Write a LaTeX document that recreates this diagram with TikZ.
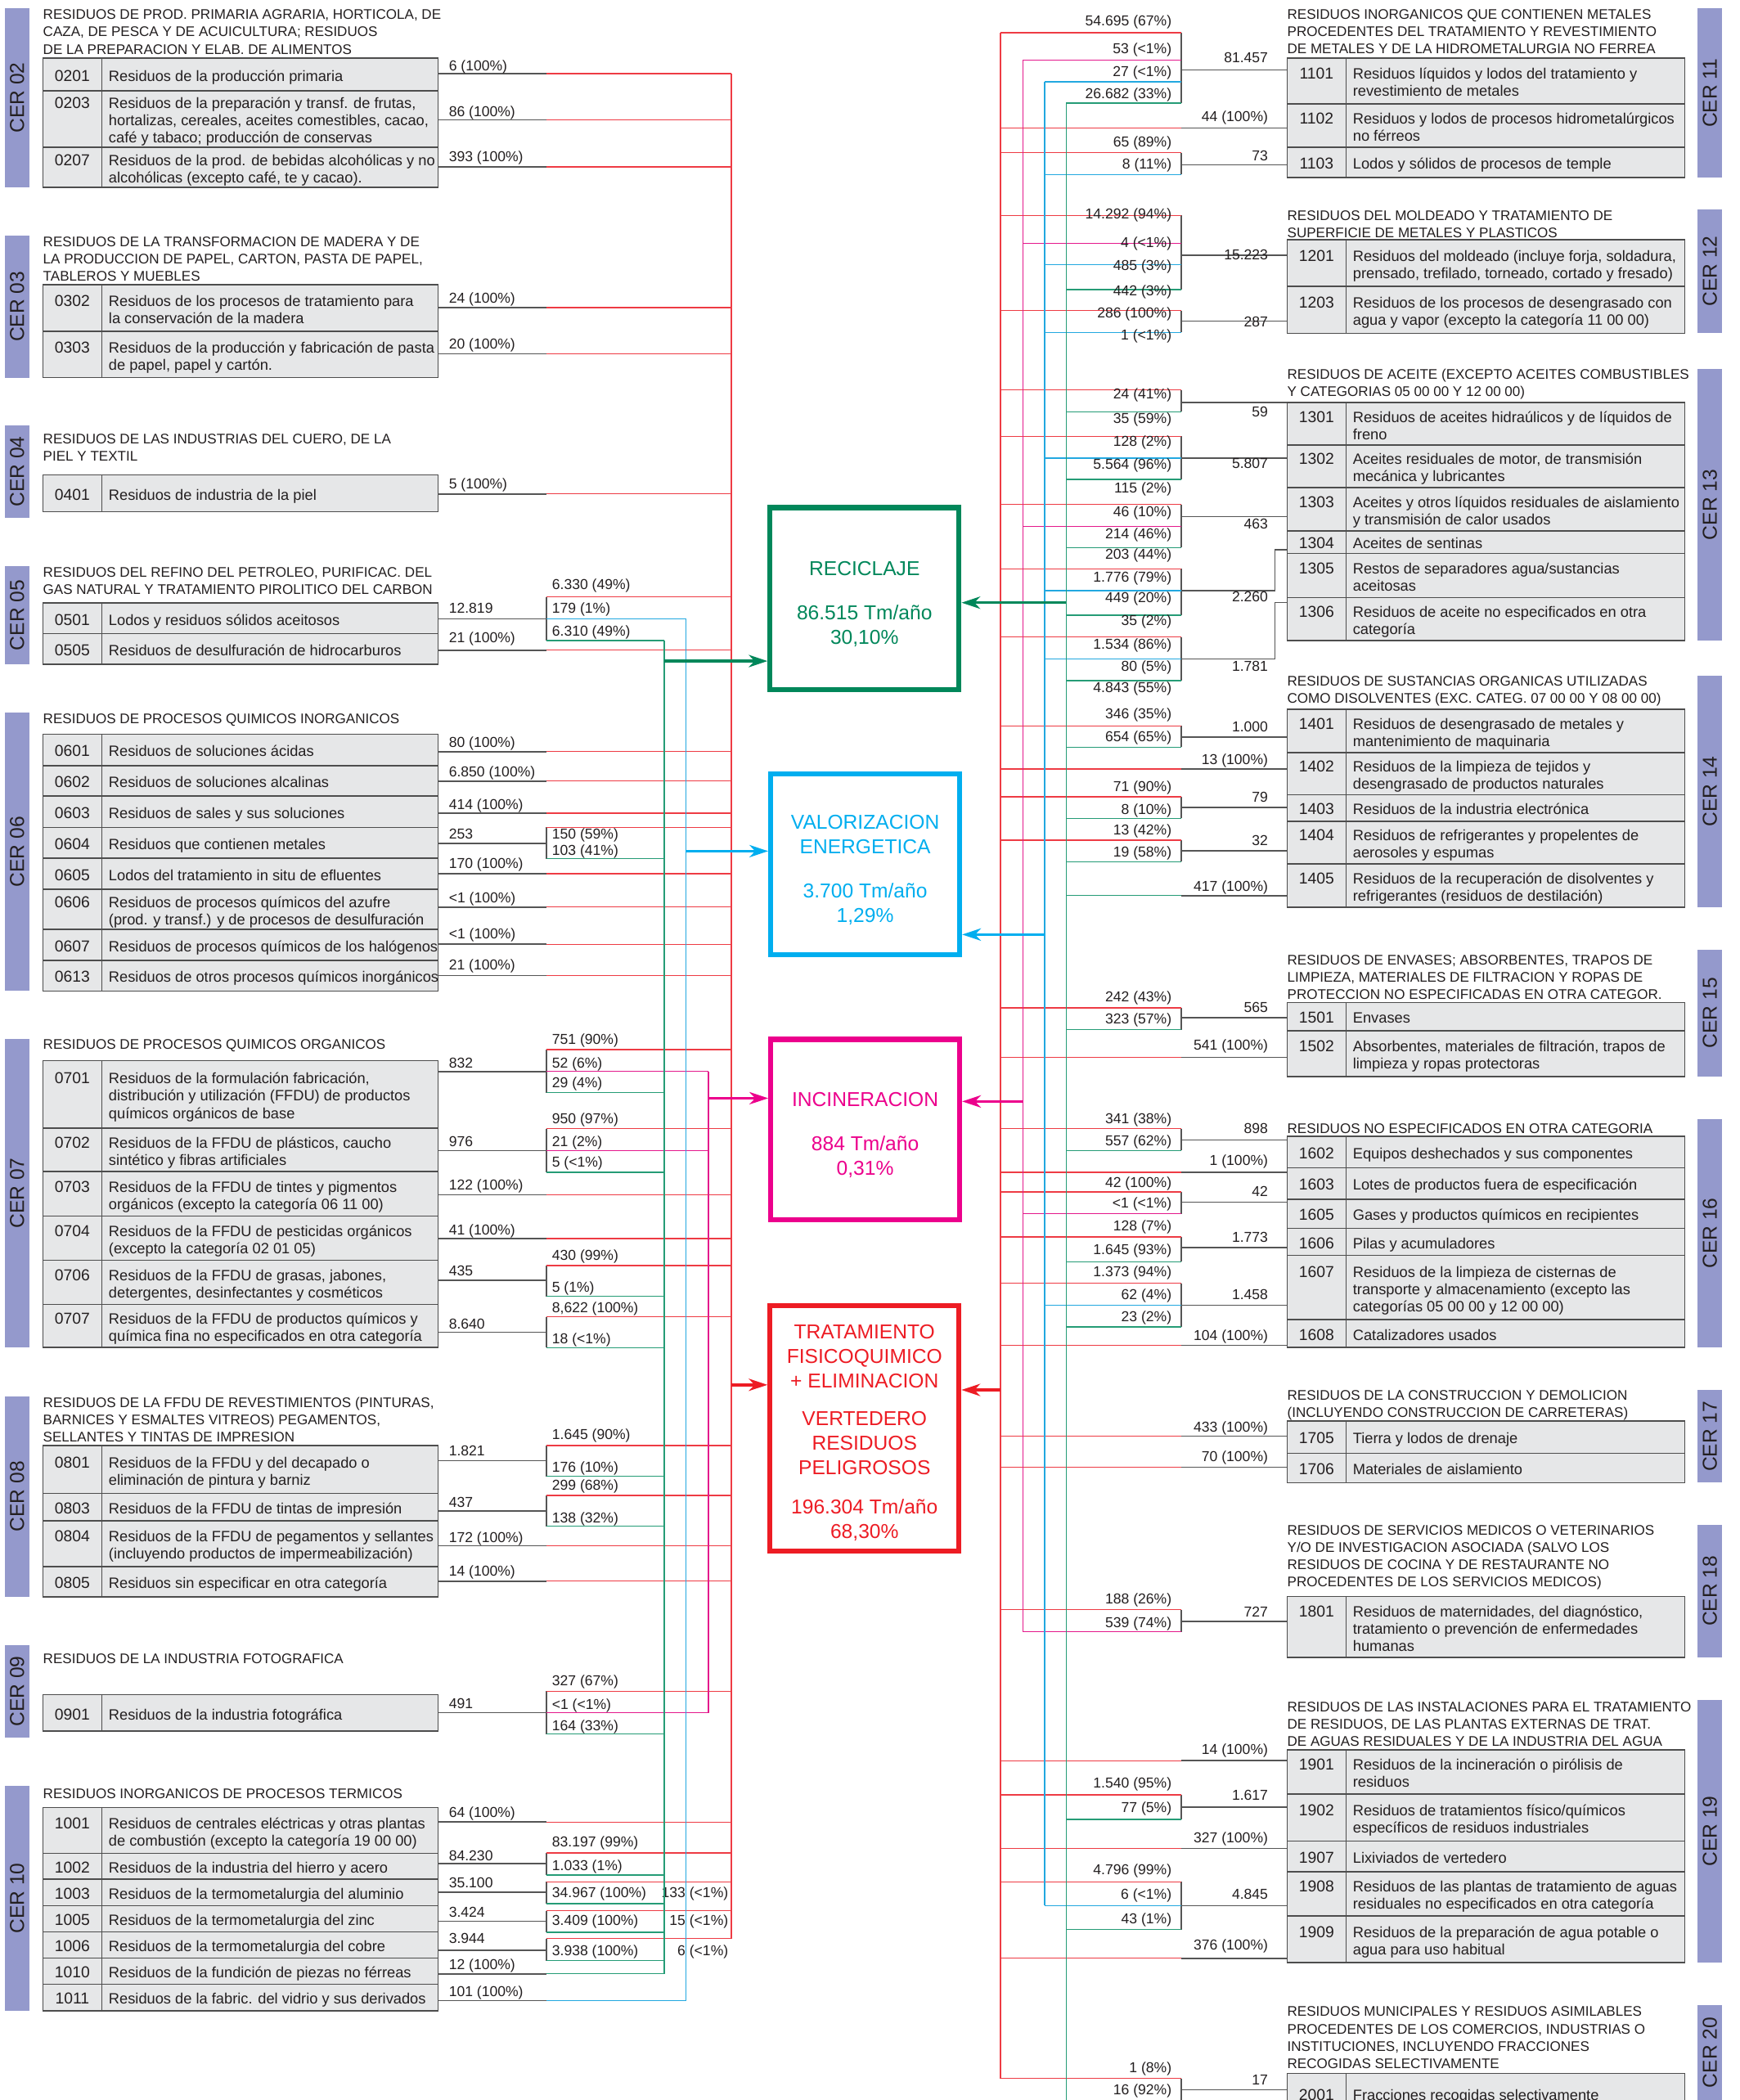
\documentclass[tikz,border=0pt]{standalone}
\usepackage{fontspec}
\setmainfont{Liberation Sans}
\usetikzlibrary{arrows.meta,positioning}
\definecolor{cerBar}   {HTML}{9499CC}
\definecolor{cellFill} {HTML}{E6E7E8}
\definecolor{cellRule} {HTML}{4D4D4D}
\definecolor{leadRule} {HTML}{555555}
\definecolor{textDark} {HTML}{231F20}
\definecolor{flowRed}  {HTML}{EE3B44}
\definecolor{flowMag}  {HTML}{E4198C}
\definecolor{flowCyan} {HTML}{22A8E0}
\definecolor{flowGreen}{HTML}{259C76}
\definecolor{recGreen} {HTML}{00875A}
\definecolor{valCyan}  {HTML}{00AEEF}
\definecolor{incMag}   {HTML}{EC008C}
\definecolor{traRed}   {HTML}{ED1C24}

\begin{document}
\begin{tikzpicture}[x=0.3275mm, y=-0.3275mm,
    rowcell/.style={draw=cellRule, fill=cellFill, line width=0.9pt},
    desctxt/.style={font=\fontsize{10.4}{12}\selectfont, align=left,
                    inner sep=0pt, text=textDark, anchor=west},
    codetxt/.style={font=\fontsize{11}{12}\selectfont, inner sep=0pt,
                    text=textDark, anchor=north},
    ttl/.style={font=\fontsize{9.7}{12}\selectfont, align=left,
                inner sep=0pt, anchor=west, text=textDark},
    cerlab/.style={font=\fontsize{14}{16}\selectfont, rotate=90,
                   text=textDark, inner sep=0pt},
    flab/.style={font=\fontsize{10}{12}\selectfont, inner sep=0pt,
                 text height=7.2pt, text depth=2.1pt, text=textDark},
    leadline/.style={draw=leadRule, line width=0.9pt},
    fred/.style={draw=flowRed, line width=0.75pt},
    fmag/.style={draw=flowMag, line width=0.75pt},
    fcyan/.style={draw=flowCyan, line width=0.75pt},
    fgreen/.style={draw=flowGreen, line width=0.75pt},
    destbox/.style={line width=3.5pt, minimum width=46.2mm},
    desttxt/.style={align=center, inner sep=0pt,
                    font=\fontsize{14}{17.2}\selectfont},
    feed/.style={line width=2pt, -{Stealth[length=13pt, width=8.5pt, inset=4pt]}}]

    \fill[white] (0,0) rectangle (1299,1568);
    \useasboundingbox (0,0) rectangle (1299,1568);

    % CER bars
    \foreach \n/\t/\b in {02/6.1/140, 03/176/282, 04/317.5/386.7, 05/422.8/496,
        06/531.9/740, 07/775.6/1006.2, 08/1042.6/1192.2, 09/1228.5/1297.3,
        10/1333.4/1501.3}
    {
      \fill[cerBar] (3.5,\t) rectangle (22,\b);
      \node[cerlab] (cer\n) at (12.75,{(\t+\b)/2}) {CER \n};
    }
    \foreach \n/\t/\b in {11/6.1/132.7, 12/156.3/248.8, 13/275.4/478.4,
        14/504.4/677.5, 15/709/803.7, 16/835.6/1006, 17/1038/1107,
        18/1138.3/1237.7, 19/1269.2/1465.3, 20/1497.2/1568}
    {
      \fill[cerBar] (1267.5,\t) rectangle (1286,\b);
      \node[cerlab] (cer\n) at (1276.75,{(\t+\b)/2}) {CER \n};
    }

    % group titles
    \foreach \n/\x/\y/\t in {
      02/32/22.7/{RESIDUOS DE PROD. PRIMARIA AGRARIA, HORTICOLA, DE\\CAZA, DE PESCA Y DE ACUICULTURA; RESIDUOS\\DE LA PREPARACION Y ELAB. DE ALIMENTOS},
      03/32/192.1/{RESIDUOS DE LA TRANSFORMACION DE MADERA Y DE\\LA PRODUCCION DE PAPEL, CARTON, PASTA DE PAPEL,\\TABLEROS Y MUEBLES},
      04/32/333.1/{RESIDUOS DE LAS INDUSTRIAS DEL CUERO, DE LA\\PIEL Y TEXTIL},
      05/32/432.7/{RESIDUOS DEL REFINO DEL PETROLEO, PURIFICAC. DEL\\GAS NATURAL Y TRATAMIENTO PIROLITICO DEL CARBON},
      06/32/536.3/{RESIDUOS DE PROCESOS QUIMICOS INORGANICOS},
      07/32/779.7/{RESIDUOS DE PROCESOS QUIMICOS ORGANICOS},
      08/32/1059/{RESIDUOS DE LA FFDU DE REVESTIMIENTOS (PINTURAS,\\BARNICES Y ESMALTES VITREOS) PEGAMENTOS,\\SELLANTES Y TINTAS DE IMPRESION},
      09/32/1237.3/{RESIDUOS DE LA INDUSTRIA FOTOGRAFICA},
      10/32/1338/{RESIDUOS INORGANICOS DE PROCESOS TERMICOS},
      11/961/22.6/{RESIDUOS INORGANICOS QUE CONTIENEN METALES\\PROCEDENTES DEL TRATAMIENTO Y REVESTIMIENTO\\DE METALES Y DE LA HIDROMETALURGIA NO FERREA},
      12/961/166.4/{RESIDUOS DEL MOLDEADO Y TRATAMIENTO DE\\SUPERFICIE DE METALES Y PLASTICOS},
      13/961/285.5/{RESIDUOS DE ACEITE (EXCEPTO ACEITES COMBUSTIBLES\\Y CATEGORIAS 05 00 00 Y 12 00 00)},
      14/961/514.8/{RESIDUOS DE SUSTANCIAS ORGANICAS UTILIZADAS\\COMO DISOLVENTES (EXC. CATEG. 07 00 00 Y 08 00 00)},
      15/961/728.3/{RESIDUOS DE ENVASES; ABSORBENTES, TRAPOS DE\\LIMPIEZA, MATERIALES DE FILTRACION Y ROPAS DE\\PROTECCION NO ESPECIFICADAS EN OTRA CATEGOR.},
      16/961/841.7/{RESIDUOS NO ESPECIFICADOS EN OTRA CATEGORIA},
      17/961/1048.2/{RESIDUOS DE LA CONSTRUCCION Y DEMOLICION\\(INCLUYENDO CONSTRUCCION DE CARRETERAS)},
      18/961/1161.7/{RESIDUOS DE SERVICIOS MEDICOS O VETERINARIOS\\Y/O DE INVESTIGACION ASOCIADA (SALVO LOS\\RESIDUOS DE COCINA Y DE RESTAURANTE NO\\PROCEDENTES DE LOS SERVICIOS MEDICOS)},
      19/961/1286/{RESIDUOS DE LAS INSTALACIONES PARA EL TRATAMIENTO\\DE RESIDUOS, DE LAS PLANTAS EXTERNAS DE TRAT.\\DE AGUAS RESIDUALES Y DE LA INDUSTRIA DEL AGUA},
      20/961/1520.2/{RESIDUOS MUNICIPALES Y RESIDUOS ASIMILABLES\\PROCEDENTES DE LOS COMERCIOS, INDUSTRIAS O\\INSTITUCIONES, INCLUYENDO FRACCIONES\\RECOGIDAS SELECTIVAMENTE}}
      \node[ttl] (ttl\n) at (\x,{\y+1.2}) {\t};

    % left rows
    \foreach \c/\t/\b/\d in {
      0201/43.2/67.8/{Residuos de la producción primaria},
      0203/67.8/110/{Residuos de la preparación y transf. de frutas,\\hortalizas, cereales, aceites comestibles, cacao,\\café y tabaco; producción de conservas},
      0207/110/140/{Residuos de la prod. de bebidas alcohólicas y no\\alcohólicas (excepto café, te y cacao).},
      0302/212.7/247.3/{Residuos de los procesos de tratamiento para\\la conservación de la madera},
      0303/247.3/282/{Residuos de la producción y fabricación de pasta\\de papel, papel y cartón.},
      0401/354.6/382/{Residuos de industria de la piel},
      0501/450.2/473.2/{Lodos y residuos sólidos aceitosos},
      0505/473.2/496/{Residuos de desulfuración de hidrocarburos},
      0601/548.2/571.6/{Residuos de soluciones ácidas},
      0602/571.6/594.4/{Residuos de soluciones alcalinas},
      0603/594.4/617.8/{Residuos de sales y sus soluciones},
      0604/617.8/640.8/{Residuos que contienen metales},
      0605/640.8/664/{Lodos del tratamiento in situ de efluentes},
      0606/664/693.8/{Residuos de procesos químicos del azufre\\(prod. y transf.) y de procesos de desulfuración},
      0607/693.8/717/{Residuos de procesos químicos de los halógenos},
      0613/717/740/{Residuos de otros procesos químicos inorgánicos},
      0701/791.9/842.2/{Residuos de la formulación fabricación,\\distribución y utilización (FFDU) de productos\\químicos orgánicos de base},
      0702/842.2/874.7/{Residuos de la FFDU de plásticos, caucho\\sintético y fibras artificiales},
      0703/874.7/908/{Residuos de la FFDU de tintes y pigmentos\\orgánicos (excepto la categoría 06 11 00)},
      0704/908/941/{Residuos de la FFDU de pesticidas orgánicos\\(excepto la categoría 02 01 05)},
      0706/941/974/{Residuos de la FFDU de grasas, jabones,\\detergentes, desinfectantes y cosméticos},
      0707/974/1006.2/{Residuos de la FFDU de productos químicos y\\química fina no especificados en otra categoría},
      0801/1079.3/1115.1/{Residuos de la FFDU y del decapado o\\eliminación de pintura y barniz},
      0803/1115.1/1135.4/{Residuos de la FFDU de tintas de impresión},
      0804/1135.4/1169.8/{Residuos de la FFDU de pegamentos y sellantes\\(incluyendo productos de impermeabilización)},
      0805/1169.8/1192.2/{Residuos sin especificar en otra categoría},
      0901/1265.2/1292.6/{Residuos de la industria fotográfica},
      1001/1349.6/1383.8/{Residuos de centrales eléctricas y otras plantas\\de combustión (excepto la categoría 19 00 00)},
      1002/1383.8/1403.2/{Residuos de la industria del hierro y acero},
      1003/1403.2/1422.9/{Residuos de la termometalurgia del aluminio},
      1005/1422.9/1442.5/{Residuos de la termometalurgia del zinc},
      1006/1442.5/1462/{Residuos de la termometalurgia del cobre},
      1010/1462/1481.5/{Residuos de la fundición de piezas no férreas},
      1011/1481.5/1501.3/{Residuos de la fabric. del vidrio y sus derivados}}
    {
      \draw[rowcell] (32,\t) rectangle (327,\b);
      \draw[rowcell] (76,\t) -- (76,\b);
      \node[desctxt] (r\c) at (81,{(\t+\b)/2+2.5}) {\strut\d\strut};
      \node[codetxt] (c\c) at ([xshift=-8.84mm]r\c.north west) {\strut\c};
    }

    % right rows
    \foreach \c/\t/\b/\d in {
      1101/43.2/77.4/{Residuos líquidos y lodos del tratamiento y\\revestimiento de metales},
      1102/77.4/110/{Residuos y lodos de procesos hidrometalúrgicos\\no férreos},
      1103/110/132.7/{Lodos y sólidos de procesos de temple},
      1201/179.1/213.7/{Residuos del moldeado (incluye forja, soldadura,\\prensado, trefilado, torneado, cortado y fresado)},
      1203/213.7/248.8/{Residuos de los procesos de desengrasado con\\agua y vapor (excepto la categoría 11 00 00)},
      1301/300.7/332.4/{Residuos de aceites hidraúlicos y de líquidos de\\freno},
      1302/332.4/364/{Aceites residuales de motor, de transmisión\\mecánica y lubricantes},
      1303/364/396.3/{Aceites y otros líquidos residuales de aislamiento\\y transmisión de calor usados},
      1304/396.3/413.2/{Aceites de sentinas},
      1305/413.2/446.2/{Restos de separadores agua/sustancias\\aceitosas},
      1306/446.2/478.4/{Residuos de aceite no especificados en otra\\categoría},
      1401/529.7/561.8/{Residuos de desengrasado de metales y\\mantenimiento de maquinaria},
      1402/561.8/593.4/{Residuos de la limpieza de tejidos y\\desengrasado de productos naturales},
      1403/593.4/613.1/{Residuos de la industria electrónica},
      1404/613.1/644.9/{Residuos de refrigerantes y propelentes de\\aerosoles y espumas},
      1405/644.9/677.5/{Residuos de la recuperación de disolventes y\\refrigerantes (residuos de destilación)},
      1501/748.5/769.5/{Envases},
      1502/769.5/803.7/{Absorbentes, materiales de filtración, trapos de\\limpieza y ropas protectoras},
      1602/848.3/871.9/{Equipos deshechados y sus componentes},
      1603/871.9/895.3/{Lotes de productos fuera de especificación},
      1605/895.3/917.1/{Gases y productos químicos en recipientes},
      1606/917.1/937.4/{Pilas y acumuladores},
      1607/937.4/985.3/{Residuos de la limpieza de cisternas de\\transporte y almacenamiento (excepto las\\categorías 05 00 00 y 12 00 00)},
      1608/985.3/1006/{Catalizadores usados},
      1705/1061/1085/{Tierra y lodos de drenaje},
      1706/1085/1107/{Materiales de aislamiento},
      1801/1191.9/1237.7/{Residuos de maternidades, del diagnóstico,\\tratamiento o prevención de enfermedades\\humanas},
      1901/1306.5/1339.5/{Residuos de la incineración o pirólisis de\\residuos},
      1902/1339.5/1374.7/{Residuos de tratamientos físico/químicos\\específicos de residuos industriales},
      1907/1374.7/1397.5/{Lixiviados de vertedero},
      1908/1397.5/1430.5/{Residuos de las plantas de tratamiento de aguas\\residuales no especificados en otra categoría},
      1909/1430.5/1465.3/{Residuos de la preparación de agua potable o\\agua para uso habitual},
      2001/1548.1/1578/{Fracciones recogidas selectivamente}}
    {
      \draw[rowcell] (961,\t) rectangle (1258,\b);
      \draw[rowcell] (1005,\t) -- (1005,\b);
      \node[desctxt] (r\c) at (1010,{(\t+\b)/2+2.5}) {\strut\d\strut};
      \node[codetxt] (c\c) at ([xshift=-8.84mm]r\c.north west) {\strut\c};
    }

    % destination boxes
    \node[destbox, draw=recGreen, minimum height=44.5mm] (recic) at (645.5,447) {};
    \node[destbox, draw=valCyan, minimum height=44.2mm] (valor) at (646,645.5) {};
    \node[destbox, draw=incMag, minimum height=44.2mm] (incin) at (646,843.5) {};
    \node[destbox, draw=traRed, minimum height=59.9mm] (trata) at (645.5,1066.5) {};
    \node[desttxt, text=recGreen] (recicT) at ([yshift=-1.3mm]recic.center)
      {RECICLAJE\\[13.5pt]86.515 Tm/año\\30,10\%};
    \node[desttxt, text=valCyan] (valorT) at ([yshift=-1.3mm]valor.center)
      {VALORIZACION\\ENERGETICA\\[13.5pt]3.700 Tm/año\\1,29\%};
    \node[desttxt, text=incMag] (incinT) at ([yshift=-1.3mm]incin.center)
      {INCINERACION\\[13.5pt]884 Tm/año\\0,31\%};
    \node[desttxt, text=traRed] (trataT) at ([yshift=-1.1mm]trata.center)
      {TRATAMIENTO\\FISICOQUIMICO\\+ ELIMINACION\\[9pt]VERTEDERO\\RESIDUOS\\PELIGROSOS\\[10pt]196.304 Tm/año\\68,30\%};

    % left side, one destination
    \foreach \c/\y/\yl/\col/\cx/\lab in {
      0201/55/49.9/fred/546/{6 (100\%)}, 0203/89.6/84.1/fred/546/{86 (100\%)},
      0207/124.6/118.1/fred/546/{393 (100\%)}, 0302/229.6/223.3/fred/546/{24 (100\%)},
      0303/264.2/257.5/fred/546/{20 (100\%)}, 0401/368.8/362.3/fred/546/{5 (100\%)},
      0505/485.5/476.9/fred/546/{21 (100\%)}, 0601/561.2/555.3/fred/546/{80 (100\%)},
      0602/583.2/577.5/fred/546/{6.850 (100\%)}, 0603/607.2/601.5/fred/546/{414 (100\%)},
      0605/652.4/645.7/fred/546/{170 (100\%)}, 0606/677.3/671.2/fred/546/{<1 (100\%)},
      0607/705/698.2/fred/546/{<1 (100\%)}, 0613/728.4/721.6/fred/546/{21 (100\%)},
      0703/892.2/885.5/fred/546/{122 (100\%)}, 0704/924.8/919/fred/546/{41 (100\%)},
      0804/1154.2/1148.7/fred/546/{172 (100\%)}, 0805/1180.6/1174.1/fred/546/{14 (100\%)},
      1001/1360.4/1354.1/fred/546/{64 (100\%)}, 1010/1473.8/1467.7/fgreen/496/{12 (100\%)},
      1011/1493.8/1487.7/fcyan/512/{101 (100\%)}}
    {
      \draw[leadline] (327,\y) -- (408,\y);
      \draw[\col] (408,\y) -- (\cx,\y);
      \node[flab, anchor=west] (q\c) at (335,\yl) {\lab};
    }

    % left side, split flows
    \foreach \c/\y/\a/\b/\yl/\lab in {
      0501/462/445.8/478.3/455.3/{12.819}, 0604/629.6/617.8/641.2/623.5/{253},
      0701/800/783.7/815.9/794.9/{832}, 0702/859/842.8/875.4/853.3/{976},
      0706/956.1/944.9/967.9/949.6/{435}, 0707/994.8/983.2/1006.2/989.3/{8.640},
      0801/1090.7/1079.3/1102.3/1084.5/{1.821}, 0803/1128.1/1116.5/1139.5/1122.6/{437},
      0901/1278.8/1262.7/1294.7/1272.7/{491}, 1002/1391.4/1383.6/1400/1386.3/{84.230},
      1003/1412.7/1405/1421.3/1407/{35.100}, 1005/1434.5/1426.6/1442.7/1428.6/{3.424},
      1006/1456.1/1447.4/1464/1448.4/{3.944}}
    {
      \draw[leadline] (327,\y) -- (408,\y);
      \draw[leadline, line width=0.7pt] (408,\a) -- (408,\b);
      \node[flab, anchor=west] (q\c) at (335,\yl) {\lab};
    }
    \foreach \c/\y/\col/\cx/\yl/\lab in {
      0501a/445.8/fred/546/437.6/{6.330 (49\%)}, 0501b/462/fcyan/512/455.3/{179 (1\%)},
      0501c/478.3/fgreen/496/472.2/{6.310 (49\%)},
      0604a/617.8/fred/546/623.5/{150 (59\%)}, 0604b/641.2/fgreen/496/636.1/{103 (41\%)},
      0701a/783.7/fred/546/777.2/{751 (90\%)}, 0701b/800/fmag/529/794.5/{52 (6\%)},
      0701c/815.9/fgreen/496/809.2/{29 (4\%)},
      0702a/842.8/fred/546/836.3/{950 (97\%)}, 0702b/859/fmag/529/853.3/{21 (2\%)},
      0702c/875.4/fgreen/496/868.8/{5 (<1\%)},
      0706a/944.9/fred/546/938/{430 (99\%)}, 0706b/967.9/fgreen/496/961.8/{5 (1\%)},
      0707a/983.2/fred/546/977.1/{8,622 (100\%)}, 0707b/1006.2/fgreen/496/1000.5/{18 (<1\%)},
      0801a/1079.3/fred/546/1071.7/{1.645 (90\%)}, 0801b/1102.3/fgreen/496/1096.2/{176 (10\%)},
      0803a/1116.5/fred/546/1110/{299 (68\%)}, 0803b/1139.5/fgreen/496/1134.2/{138 (32\%)},
      0901a/1262.7/fred/546/1255.6/{327 (67\%)}, 0901b/1278.8/fmag/529/1273.3/{<1 (<1\%)},
      0901c/1294.7/fgreen/496/1289.2/{164 (33\%)},
      1002a/1383.6/fred/546/1376.1/{83.197 (99\%)}, 1002b/1400/fgreen/496/1394/{1.033 (1\%)},
      1003b/1421.3/fgreen/496/1413.8/{34.967 (100\%)},
      1005b/1442.7/fgreen/496/1435.1/{3.409 (100\%)},
      1006b/1464/fgreen/496/1457.5/{3.938 (100\%)}}
    {
      \draw[\col] (408,\y) -- (\cx,\y);
      \node[flab, anchor=west] (p\c) at (412,\yl) {\lab};
    }
    \foreach \c/\y/\yl/\lab in {1003a/1405/1413.8/{133 (<1\%)},
        1005a/1426.6/1435.1/{15 (<1\%)}, 1006a/1447.4/1457.5/{6 (<1\%)}}
    {
      \draw[fred] (408,\y) -- (546,\y);
      \node[flab, anchor=east] (p\c) at (544,\yl) {\lab};
    }

    % right side, one destination
    \foreach \c/\y/\yl/\col/\cx/\lab in {
      1102/95.7/88.1/fred/747/{44 (100\%)}, 1402/574.1/568/fred/747/{13 (100\%)},
      1405/668.7/662.6/fgreen/796/{417 (100\%)}, 1502/789.4/781.3/fred/747/{541 (100\%)},
      1603/875.3/867.6/fred/747/{1 (100\%)}, 1608/1004.6/997.9/fred/747/{104 (100\%)},
      1705/1072.4/1066.3/fred/747/{433 (100\%)}, 1706/1095.6/1088.5/fred/747/{70 (100\%)},
      1901/1314.6/1307.3/fred/747/{14 (100\%)}, 1907/1380.2/1373/fred/747/{327 (100\%)},
      1909/1462.2/1453/fred/747/{376 (100\%)}}
    {
      \draw[leadline] (961,\y) -- (882,\y);
      \draw[\col] (882,\y) -- (\cx,\y);
      \node[flab, anchor=east] (q\c) at (947,\yl) {\lab};
    }

    % right side, split flows
    \foreach \c/\y/\a/\b/\yl/\lab in {
      1101/52.3/24.4/76.9/43.8/{81.457}, 1103/123/114/130.3/117/{73},
      1201/190.7/160.8/216.2/191.3/{15.223}, 1203/239.8/232/248.3/241.2/{287},
      1301/300.7/291.1/307.4/308.4/{59}, 1302/342/325.7/357.9/347.1/{5.807},
      1303/385.8/376.6/408.8/391.9/{463}, 1401/550.2/541.9/557.8/543.5/{1.000},
      1403/603/595/611.1/596/{79}, 1404/635.1/627.4/643.3/628.6/{32},
      1501/759.9/752.6/768.9/753.2/{565}, 1602/851.3/842.8/859.1/843.8/{898},
      1605/897.7/890/906.3/890.6/{42}, 1606/931.5/923.6/942.1/924.6/{1.773},
      1607/974.5/958.2/990.8/967.3/{1.458}, 1801/1210.8/1202/1218.3/1204.5/{727},
      1902/1349.2/1340.1/1358.4/1341.5/{1.617}, 1908/1422.9/1405/1440.8/1415.2/{4.845},
      2001/1560.3/1551.8/1580/1554.2/{17}}
    {
      \draw[leadline] (961,\y) -- (882,\y);
      \draw[leadline, line width=0.7pt] (882,\a) -- (882,\b);
      \node[flab, anchor=east] (q\c) at (947,\yl) {\lab};
    }
    \draw[leadline] (961,410.6) -- (952,410.6) -- (952,441.1) -- (882,441.1);
    \draw[leadline, line width=0.7pt] (882,424.8) -- (882,459.4);
    \node[flab, anchor=east] (q1305) at (947,446.8) {2.260};
    \draw[leadline] (961,449.9) -- (952,449.9) -- (952,492) -- (882,492);
    \draw[leadline, line width=0.7pt] (882,475.7) -- (882,508.3);
    \node[flab, anchor=east] (q1306) at (947,498.7) {1.781};

    \foreach \c/\y/\col/\cx/\yl/\lab in {
      1101a/24.4/fred/747/16.3/{54.695 (67\%)}, 1101b/44.8/fmag/764/37.3/{53 (<1\%)},
      1101c/61.1/fcyan/780/54.6/{27 (<1\%)}, 1101d/76.9/fgreen/796/70.8/{26.682 (33\%)},
      1103a/114/fred/747/106.9/{65 (89\%)}, 1103b/130.3/fcyan/780/123.2/{8 (11\%)},
      1201a/160.8/fred/747/160.8/{14.292 (94\%)}, 1201b/181.6/fmag/764/182.2/{4 (<1\%)},
      1201c/197.8/fcyan/780/199.1/{485 (3\%)}, 1201d/216.2/fgreen/796/218.2/{442 (3\%)},
      1203a/232/fred/747/234.5/{286 (100\%)}, 1203b/248.3/fcyan/780/250.8/{1 (<1\%)},
      1301a/291.1/fred/747/295.2/{24 (41\%)}, 1301b/307.4/fgreen/796/313.5/{35 (59\%)},
      1302a/325.7/fred/747/330.4/{128 (2\%)}, 1302b/342/fcyan/780/347.7/{5.564 (96\%)},
      1302c/357.9/fgreen/796/365.4/{115 (2\%)},
      1303a/376.6/fred/747/382.7/{46 (10\%)}, 1303b/392.9/fmag/764/399.4/{214 (46\%)},
      1303c/408.8/fgreen/796/414.9/{203 (44\%)},
      1305a/424.8/fred/747/432/{1.776 (79\%)}, 1305b/441.1/fcyan/780/447.4/{449 (20\%)},
      1305c/459.4/fgreen/796/464.5/{35 (2\%)},
      1306a/475.7/fred/747/482/{1.534 (86\%)}, 1306b/492/fcyan/780/498.7/{80 (5\%)},
      1306c/508.3/fgreen/796/514.6/{4.843 (55\%)},
      1401a/541.9/fred/747/533.7/{346 (35\%)}, 1401b/557.8/fgreen/796/551/{654 (65\%)},
      1403a/595/fred/747/588.3/{71 (90\%)}, 1403b/611.1/fgreen/796/605.2/{8 (10\%)},
      1404a/627.4/fred/747/620.5/{13 (42\%)}, 1404b/643.3/fgreen/796/637.2/{19 (58\%)},
      1501a/752.6/fred/747/745/{242 (43\%)}, 1501b/768.9/fgreen/796/762/{323 (57\%)},
      1602a/842.8/fred/747/836.2/{341 (38\%)}, 1602b/859.1/fgreen/796/853/{557 (62\%)},
      1605a/890/fred/747/883.9/{42 (100\%)}, 1605b/906.3/fmag/764/899.4/{<1 (<1\%)},
      1606a/923.6/fred/747/916/{128 (7\%)}, 1606b/942.1/fgreen/796/934/{1.645 (93\%)},
      1607a/958.2/fred/747/950.7/{1.373 (94\%)}, 1607b/974.5/fcyan/780/967.3/{62 (4\%)},
      1607c/990.8/fgreen/796/984.2/{23 (2\%)},
      1801a/1202/fred/747/1194.5/{188 (26\%)}, 1801b/1218.3/fmag/764/1212.2/{539 (74\%)},
      1902a/1340.1/fred/747/1332.3/{1.540 (95\%)}, 1902b/1358.4/fgreen/796/1350.7/{77 (5\%)},
      1908a/1405/fred/747/1396.9/{4.796 (99\%)}, 1908b/1422.9/fcyan/780/1415.2/{6 (<1\%)},
      1908c/1440.8/fgreen/796/1433.5/{43 (1\%)},
      2001a/1551.8/fred/747/1544.7/{1 (8\%)}, 2001b/1580/fgreen/796/1561/{16 (92\%)}}
    {
      \draw[\col] (882,\y) -- (\cx,\y);
      \node[flab, anchor=east] (p\c) at (875,\yl) {\lab};
    }

    % collectors
    \draw[fred]   (546,55) -- (546,1447.4);
    \draw[fmag]   (529,800) -- (529,1278.8);
    \draw[fcyan]  (512,462) -- (512,1493.8);
    \draw[fgreen] (496,478.3) -- (496,1473.8);
    \draw[fred]   (747,24.4) -- (747,1551.8);
    \draw[fmag]   (764,44.8) -- (764,1218.3);
    \draw[fcyan]  (780,61.1) -- (780,1422.9);
    \draw[fgreen] (796,76.9) -- (796,1580);

    % feeds into the boxes
    \coordinate (recL) at (496,493.6);
    \coordinate (valL) at (512,635.5);
    \coordinate (incL) at (529,820);
    \coordinate (traL) at (546,1034);
    \coordinate (recR) at (796,450);
    \coordinate (valR) at (780,697.8);
    \coordinate (incR) at (764,822.4);
    \coordinate (traR) at (747,1037.8);
    \draw[feed, draw=recGreen, fill=recGreen] (recL) -- (recic.west |- recL);
    \draw[feed, draw=valCyan, fill=valCyan]   (valL) -- (valor.west |- valL);
    \draw[feed, draw=incMag, fill=incMag]     (incL) -- (incin.west |- incL);
    \draw[feed, draw=traRed, fill=traRed]     (traL) -- (trata.west |- traL);
    \draw[feed, draw=recGreen, fill=recGreen] (recR) -- (recic.east |- recR);
    \draw[feed, draw=valCyan, fill=valCyan]   (valR) -- (valor.east |- valR);
    \draw[feed, draw=incMag, fill=incMag]     (incR) -- (incin.east |- incR);
    \draw[feed, draw=traRed, fill=traRed]     (traR) -- (trata.east |- traR);
\end{tikzpicture}
\end{document}
